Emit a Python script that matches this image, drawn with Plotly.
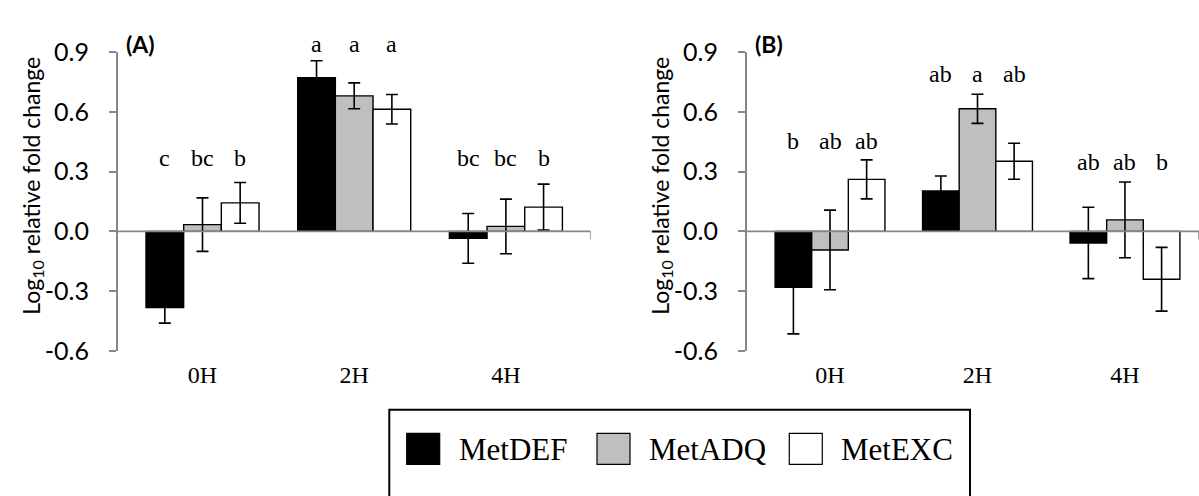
import plotly.graph_objects as go
from plotly.subplots import make_subplots

# ---- data -----------------------------------------------------------------
time_points = ["0H", "2H", "4H"]
series_names = ["MetDEF", "MetADQ", "MetEXC"]
series_colors = ["#000000", "#bfbfbf", "#ffffff"]

# Panel A: mean log10 fold change and standard error
a_metdef = [-0.382, 0.771, -0.035]
a_metadq = [0.034, 0.680, 0.025]
a_metexc = [0.143, 0.613, 0.122]
a_metdef_se = [0.078, 0.085, 0.125]
a_metadq_se = [0.134, 0.065, 0.137]
a_metexc_se = [0.102, 0.074, 0.115]
a_letters = [["c", "a", "bc"], ["bc", "a", "bc"], ["b", "a", "b"]]

# Panel B
b_metdef = [-0.280, 0.203, -0.058]
b_metadq = [-0.093, 0.615, 0.058]
b_metexc = [0.261, 0.352, -0.240]
b_metdef_se = [0.234, 0.075, 0.179]
b_metadq_se = [0.200, 0.073, 0.190]
b_metexc_se = [0.098, 0.090, 0.160]
b_letters = [["b", "ab", "ab"], ["ab", "a", "ab"], ["ab", "ab", "b"]]

y_ticks = [-0.6, -0.3, 0.0, 0.3, 0.6, 0.9]
y_title = "Log<sub>10</sub> relative fold change"

# ---- layout helpers ---------------------------------------------------------
W, H = 1199, 496
AXIS_GRAY = "#878787"
SERIF = "Liberation Serif, Times New Roman, serif"
SANS = "Lato, Open Sans, sans-serif"


def px_x(p):
    return p / W


def px_y(p):
    return 1 - p / H


BAR_STEP = 0.2485  # offset of neighbouring bars within a group (category units)

# letter heights above each time point (data units), per panel
letter_heights = {
    "A": [0.327, 0.90, 0.327],
    "B": [0.413, 0.751, 0.308],
}

panels = [
    dict(key="A", values=[a_metdef, a_metadq, a_metexc],
         errors=[a_metdef_se, a_metadq_se, a_metexc_se], letters=a_letters,
         axis_px=117.7, xdom=[px_x(117.7), px_x(590.7)], xrange=[-0.559, 2.559]),
    dict(key="B", values=[b_metdef, b_metadq, b_metexc],
         errors=[b_metdef_se, b_metadq_se, b_metexc_se], letters=b_letters,
         axis_px=746.7, xdom=[px_x(746.7), 1.0], xrange=[-0.565, 2.502]),
]

fig = make_subplots(rows=1, cols=2)

for col, panel in enumerate(panels, start=1):
    for s, name in enumerate(series_names):
        fig.add_trace(
            go.Bar(
                x=time_points,
                y=panel["values"][s],
                name=name,
                showlegend=False,
                marker=dict(color=series_colors[s],
                            line=dict(color="#000000", width=1.4)),
                error_y=dict(type="data", array=panel["errors"][s],
                             color="#000000", thickness=1.6, width=6),
            ),
            row=1, col=col,
        )
    xa = "x" if col == 1 else "x2"
    ya = "y" if col == 1 else "y2"

    # significance letters over each bar
    for s in range(len(series_names)):
        for t in range(len(time_points)):
            fig.add_annotation(
                x=t + (s - 1) * BAR_STEP, y=letter_heights[panel["key"]][t],
                xref=xa, yref=ya, text=panel["letters"][s][t],
                showarrow=False, yanchor="bottom", yshift=-7,
                font=dict(family=SERIF, size=24, color="#000000"),
            )

    # horizontal axis line through zero, drawn above the bars
    fig.add_shape(type="line", xref=xa, yref=ya,
                  x0=panel["xrange"][0], x1=panel["xrange"][1], y0=0, y1=0,
                  line=dict(color=AXIS_GRAY, width=1.6), layer="above")
    # closing tick at the right end of the category axis
    fig.add_shape(type="line", xref=xa, yref=ya, ysizemode="pixel", yanchor=0,
                  x0=panel["xrange"][1], x1=panel["xrange"][1], y0=0, y1=-8,
                  line=dict(color=AXIS_GRAY, width=1.6), layer="above")

    # panel tag
    fig.add_annotation(
        x=px_x(panel["axis_px"] + 6.5), y=px_y(30), xref="paper", yref="paper",
        text="<b>(%s)</b>" % panel["key"], showarrow=False,
        xanchor="left", yanchor="middle",
        font=dict(family=SANS, size=23, color="#000000"),
    )

    # vertical axis title
    fig.add_annotation(
        x=px_x(panel["axis_px"] - 86), y=px_y(181), xref="paper", yref="paper",
        text=y_title, textangle=-90, showarrow=False,
        xanchor="center", yanchor="middle",
        font=dict(family=SANS, size=23, color="#000000"),
    )

    fig.update_xaxes(
        domain=panel["xdom"], range=panel["xrange"], type="category",
        showline=False, showgrid=False, zeroline=False, ticks="",
        tickfont=dict(family=SERIF, size=24, color="#000000"),
        ticklabelstandoff=7,
        row=1, col=col,
    )
    fig.update_yaxes(
        domain=[px_y(356.6), px_y(38.3)], range=[-0.6, 0.9],
        tickvals=y_ticks, ticktext=["%.1f" % v for v in y_ticks],
        showline=True, linecolor=AXIS_GRAY, linewidth=1.6,
        ticks="outside", ticklen=7, tickcolor=AXIS_GRAY, tickwidth=1.6,
        showgrid=False, zeroline=False,
        tickfont=dict(family=SANS, size=25, color="#000000"),
        ticklabelstandoff=15,
        row=1, col=col,
    )

# ---- legend box --------------------------------------------------------------
fig.add_shape(type="rect", xref="paper", yref="paper",
              x0=px_x(389.3), x1=px_x(970), y0=px_y(540), y1=px_y(419),
              line=dict(color="#000000", width=2), fillcolor="rgba(0,0,0,0)")
legend_square_left = [406.7, 597.0, 789.3]
for name, color, left in zip(series_names, series_colors, legend_square_left):
    fig.add_shape(type="rect", xref="paper", yref="paper",
                  x0=px_x(left), x1=px_x(left + 33), y0=px_y(477.3), y1=px_y(444.3),
                  line=dict(color="#000000", width=1.2), fillcolor=color)
    fig.add_annotation(x=px_x(left + 50), y=px_y(461), xref="paper", yref="paper",
                       text=name, showarrow=False, xanchor="left", yanchor="middle",
                       font=dict(family=SERIF, size=31, color="#000000"))

fig.update_layout(
    width=W, height=H,
    margin=dict(l=0, r=0, t=0, b=0),
    barmode="group", bargap=0.255, bargroupgap=0,
    plot_bgcolor="#ffffff", paper_bgcolor="#ffffff",
    showlegend=False,
)

fig.write_html("out.html")
